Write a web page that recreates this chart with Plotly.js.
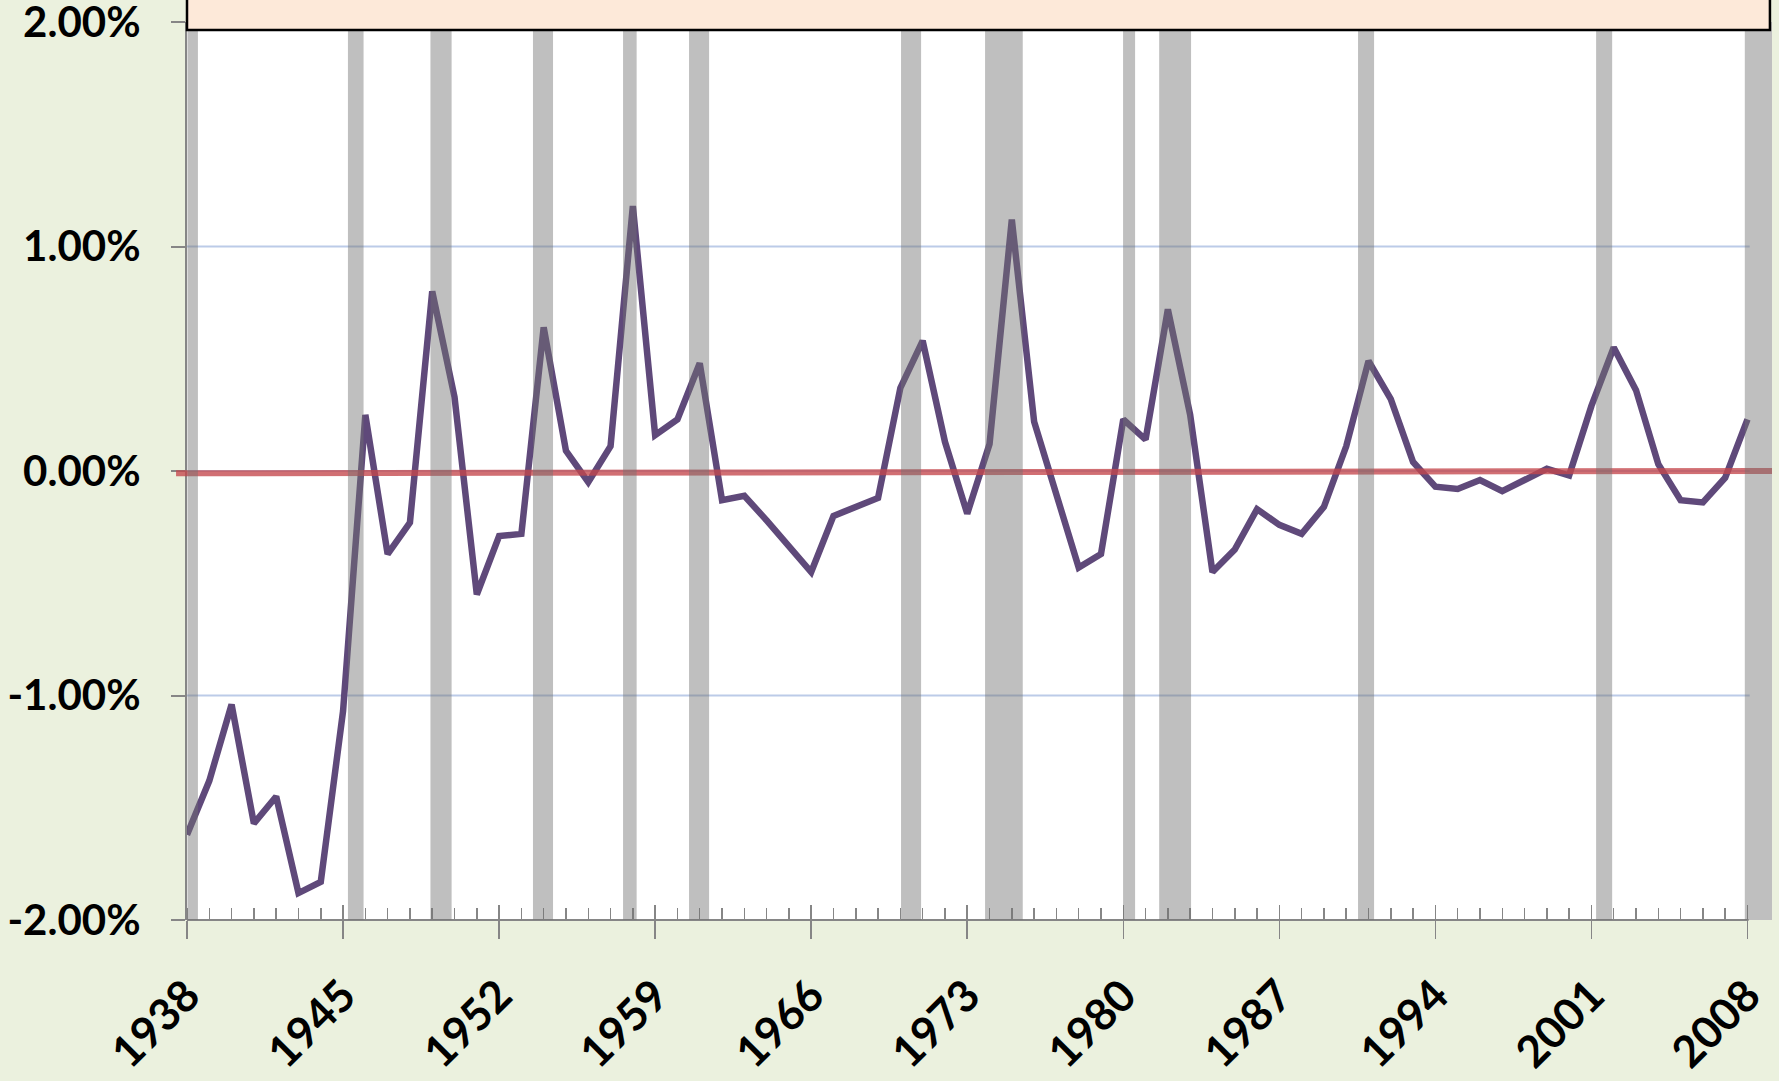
<!DOCTYPE html>
<html>
<head>
<meta charset="utf-8">
<script src="https://cdn.plot.ly/plotly-3.0.1.min.js"></script>
<style>
  html, body { margin: 0; padding: 0; background: #ebf1de; }
  #chart { width: 1779px; height: 1081px; }
</style>
</head>
<body>
<div id="chart"></div>
<script>
// ---- data ----
const years = [1938,1939,1940,1941,1942,1943,1944,1945,1946,1947,1948,1949,1950,1951,1952,1953,1954,1955,1956,1957,1958,1959,1960,1961,1962,1963,1964,1965,1966,1967,1968,1969,1970,1971,1972,1973,1974,1975,1976,1977,1978,1979,1980,1981,1982,1983,1984,1985,1986,1987,1988,1989,1990,1991,1992,1993,1994,1995,1996,1997,1998,1999,2000,2001,2002,2003,2004,2005,2006,2007,2008];
const values = [-1.62,-1.38,-1.04,-1.57,-1.45,-1.88,-1.83,-1.07,0.25,-0.37,-0.23,0.80,0.33,-0.55,-0.29,-0.28,0.64,0.09,-0.05,0.11,1.18,0.16,0.23,0.48,-0.13,-0.11,-0.22,-0.34,-0.45,-0.20,-0.16,-0.12,0.37,0.58,0.13,-0.19,0.12,1.12,0.22,-0.10,-0.43,-0.37,0.23,0.14,0.72,0.25,-0.45,-0.35,-0.17,-0.24,-0.28,-0.16,0.11,0.49,0.32,0.04,-0.07,-0.08,-0.04,-0.09,-0.04,0.01,-0.02,0.29,0.55,0.36,0.03,-0.13,-0.14,-0.03,0.23];
// recession periods (fractional years)
const recStart = [1938.02,1945.22,1948.92,1953.52,1957.56,1960.52,1970.03,1973.80,1979.99,1981.61,1990.53,2001.21,2007.88];
const recEnd   = [1938.49,1945.92,1949.87,1954.42,1958.17,1961.42,1970.93,1975.49,1980.53,1983.04,1991.25,2001.93,2009.10];
// zero reference line (start / end value)
const zeroLineY = [-0.01, 0.0];
// axis ticks
const yTickVals = [-2, -1, 0, 1, 2];
const yTickText = ['-2.00%', '-1.00%', '0.00%', '1.00%', '2.00%'];

const yFont = { family: 'Lato, "Open Sans", sans-serif', size: 42, color: '#000000', weight: 'bold' };
const xFont = { family: 'Lato, "Open Sans", sans-serif', size: 44, color: '#000000', weight: 'bold' };
const axisGrey = '#868686';
const lastYear = years[years.length - 1];
const xRange = [years[0], 2009.1];

const traces = [
  { x: [years[0]], y: [null], xaxis: 'x2', yaxis: 'y', mode: 'lines', showlegend: false, hoverinfo: 'skip' },
  {
    x: years, y: values, type: 'scatter', mode: 'lines',
    line: { color: '#5f497a', width: 6.5 },
    showlegend: false, hoverinfo: 'x+y'
  }
];

const shapes = [];
// horizontal gridlines (end at the last year)
yTickVals.forEach(v => {
  if (v === -2) return;
  shapes.push({
    type: 'line', xref: 'x', yref: 'y', x0: years[0], x1: lastYear + 0.1, y0: v, y1: v,
    line: { color: '#bccbe8', width: 2 }, layer: 'below'
  });
});
// x axis baseline (ends at the last year)
shapes.push({
  type: 'line', xref: 'x', yref: 'paper', x0: years[0], x1: lastYear + 0.05, y0: 0, y1: 0,
  line: { color: axisGrey, width: 2 }, layer: 'above'
});
// red zero line
shapes.push({
  type: 'line', xref: 'paper', yref: 'y',
  x0: -0.0069, x1: 1.0, y0: zeroLineY[0], y1: zeroLineY[1],
  line: { color: 'rgba(196,70,76,0.78)', width: 6 }, layer: 'above'
});
// recession bars
for (let i = 0; i < recStart.length; i++) {
  shapes.push({
    type: 'rect', xref: 'x', yref: 'paper',
    x0: recStart[i], x1: recEnd[i], y0: 0, y1: 1,
    fillcolor: 'rgba(113,113,113,0.45)', line: { width: 0 }, layer: 'above'
  });
}
// pink box at top
shapes.push({
  type: 'rect', xref: 'paper', yref: 'paper',
  x0: 0, x1: 0.9987, y0: 0.9911, y1: 1.08,
  fillcolor: '#fde9d9', line: { color: '#000000', width: 2.5 }, layer: 'above'
});

const layout = {
  width: 1779, height: 1081, autosize: false,
  margin: { l: 187, r: 7, t: 22, b: 161, pad: 0 },
  paper_bgcolor: '#ebf1de',
  plot_bgcolor: '#ffffff',
  showlegend: false,
  xaxis: {
    range: xRange, tickmode: 'linear', tick0: years[0], dtick: 7,
    ticks: 'outside', ticklen: 18, tickwidth: 1.5, tickcolor: axisGrey,
    showline: false, showgrid: false, zeroline: false,
    tickangle: -45, tickfont: xFont, ticklabelstandoff: 13, ticklabeloverflow: 'allow',
    minor: { tickmode: 'array', tickvals: years, ticks: 'inside', ticklen: 12, tickwidth: 1.5, tickcolor: axisGrey, showgrid: false }
  },
  xaxis2: {
    overlaying: 'x', anchor: 'y', side: 'bottom',
    range: xRange, tickmode: 'linear', tick0: years[0], dtick: 7,
    ticks: 'inside', ticklen: 15, tickwidth: 1.5, tickcolor: axisGrey,
    showticklabels: false, showline: false, showgrid: false, zeroline: false
  },
  yaxis: {
    range: [-2, 2], tickmode: 'array', tickvals: yTickVals, ticktext: yTickText,
    ticks: 'outside', ticklen: 14, tickwidth: 2, tickcolor: axisGrey,
    showline: true, linecolor: axisGrey, linewidth: 2,
    showgrid: false, zeroline: false,
    tickfont: yFont, ticklabelstandoff: 22, ticklabeloverflow: 'allow'
  },
  shapes: shapes
};

Plotly.newPlot('chart', traces, layout, { displayModeBar: false, staticPlot: true });
</script>
</body>
</html>
